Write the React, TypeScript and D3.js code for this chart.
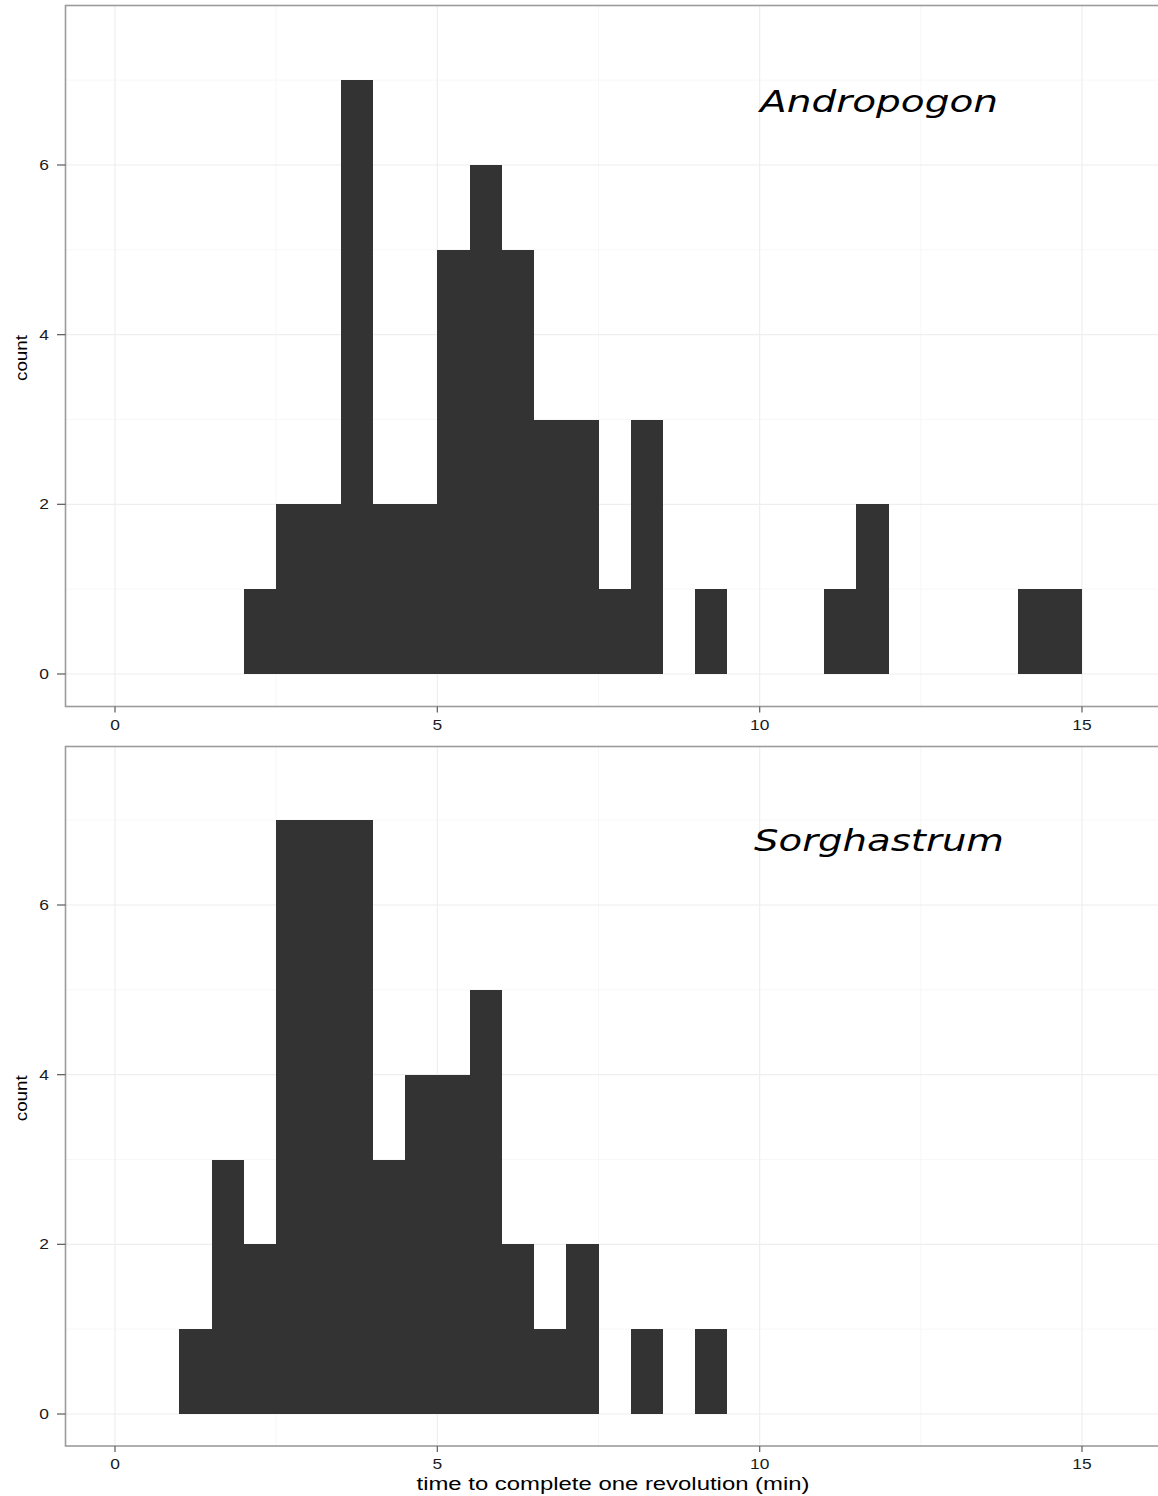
import React from "react";
import * as d3 from "d3";

const binWidth = 0.5;
const andropogonStarts = [2, 2.5, 3, 3.5, 4, 4.5, 5, 5.5, 6, 6.5, 7, 7.5, 8, 9, 11, 11.5, 14, 14.5];
const andropogonCounts = [1, 2, 2, 7, 2, 2, 5, 6, 5, 3, 3, 1, 3, 1, 1, 2, 1, 1];
const sorghastrumStarts = [1, 1.5, 2, 2.5, 3, 3.5, 4, 4.5, 5, 5.5, 6, 6.5, 7, 8, 9];
const sorghastrumCounts = [1, 3, 2, 7, 7, 7, 3, 4, 4, 5, 2, 1, 2, 1, 1];
const xTicks = [0, 5, 10, 15];
const xMinor = [2.5, 7.5, 12.5];
const yTicks = [0, 2, 4, 6];
const yMinor = [1, 3, 5, 7];
const panelTitles = ["Andropogon", "Sorghastrum"];
const xLabel = "time to complete one revolution (min)";
const yLabel = "count";

const W = 1158;
const H = 1496;
const FONT = "'Liberation Sans', Arial, sans-serif";

const x = d3.scaleLinear().domain([0, 15]).range([115, 1082]);

type PanelProps = {
  top: number;
  bottom: number;
  y0: number;
  y6: number;
  starts: number[];
  counts: number[];
  title: string;
  titleWidth: number;
  titleBaseline: number;
};

function Panel({ top, bottom, y0, y6, starts, counts, title, titleWidth, titleBaseline }: PanelProps) {
  const y = d3.scaleLinear().domain([0, 6]).range([y0, y6]);
  const left = 65.5;
  const right = 1175;
  return (
    <g>
      <rect x={left} y={top} width={right - left} height={bottom - top} fill="#ffffff" />
      {xMinor.map((v) => (
        <line key={"xm" + v} x1={x(v)} x2={x(v)} y1={top} y2={bottom} stroke="#f7f7f7" strokeWidth={1} />
      ))}
      {yMinor.map((v) => (
        <line key={"ym" + v} x1={left} x2={right} y1={y(v)} y2={y(v)} stroke="#f7f7f7" strokeWidth={1} />
      ))}
      {xTicks.map((v) => (
        <line key={"xg" + v} x1={x(v)} x2={x(v)} y1={top} y2={bottom} stroke="#eeeeee" strokeWidth={1.2} />
      ))}
      {yTicks.map((v) => (
        <line key={"yg" + v} x1={left} x2={right} y1={y(v)} y2={y(v)} stroke="#eeeeee" strokeWidth={1.2} />
      ))}
      {starts.map((s, i) => (
        <rect
          key={"b" + i}
          x={Math.round(x(s))}
          y={Math.round(y(counts[i]))}
          width={Math.round(x(s + binWidth)) - Math.round(x(s))}
          height={Math.round(y(0)) - Math.round(y(counts[i]))}
          fill="#333333"
          shapeRendering="crispEdges"
        />
      ))}
      <rect x={left} y={top} width={right - left} height={bottom - top} fill="none" stroke="#9c9c9c" strokeWidth={1.6} />
      {yTicks.map((v) => (
        <g key={"yt" + v}>
          <line x1={57} x2={left} y1={y(v)} y2={y(v)} stroke="#666" strokeWidth={1.3} />
          <text
            transform={`translate(49,${y(v) + 5}) scale(1.2,1)`}
            textAnchor="end"
            fontFamily={FONT}
            fontSize={14.5}
            fill="#1a1a1a"
          >
            {v}
          </text>
        </g>
      ))}
      {xTicks.map((v) => (
        <g key={"xt" + v}>
          <line x1={x(v)} x2={x(v)} y1={bottom} y2={bottom + 6} stroke="#666" strokeWidth={1.3} />
          <text
            transform={`translate(${x(v)},${bottom + 23}) scale(1.2,1)`}
            textAnchor="middle"
            fontFamily={FONT}
            fontSize={14.5}
            fill="#1a1a1a"
          >
            {v}
          </text>
        </g>
      ))}
      <text
        transform={`translate(27,${(top + bottom) / 2 + 2}) rotate(-90)`}
        textAnchor="middle"
        fontFamily={FONT}
        fontSize={16}
        textLength={46}
        lengthAdjust="spacingAndGlyphs"
        fill="#000"
      >
        {yLabel}
      </text>
      <text
        x={879}
        y={titleBaseline}
        textAnchor="middle"
        fontFamily="'DejaVu Sans', sans-serif"
        fontStyle="italic"
        fontSize={31}
        textLength={titleWidth}
        lengthAdjust="spacingAndGlyphs"
        fill="#000"
      >
        {title}
      </text>
    </g>
  );
}

export default function App() {
  return (
    <svg
      width={W}
      height={H}
      viewBox={`0 0 ${W} ${H}`}
      style={{ position: "absolute", left: 0, top: 0, display: "block", background: "#fff" }}
    >
      <rect x={0} y={0} width={W} height={H} fill="#fff" />
      <Panel
        top={5.5}
        bottom={706.5}
        y0={674}
        y6={165}
        starts={andropogonStarts}
        counts={andropogonCounts}
        title={panelTitles[0]}
        titleWidth={238}
        titleBaseline={112}
      />
      <Panel
        top={746.5}
        bottom={1446}
        y0={1414}
        y6={905}
        starts={sorghastrumStarts}
        counts={sorghastrumCounts}
        title={panelTitles[1]}
        titleWidth={250}
        titleBaseline={851}
      />
      <text
        x={613}
        y={1490}
        textAnchor="middle"
        fontFamily={FONT}
        fontSize={18}
        textLength={393}
        lengthAdjust="spacingAndGlyphs"
        fill="#000"
      >
        {xLabel}
      </text>
    </svg>
  );
}
